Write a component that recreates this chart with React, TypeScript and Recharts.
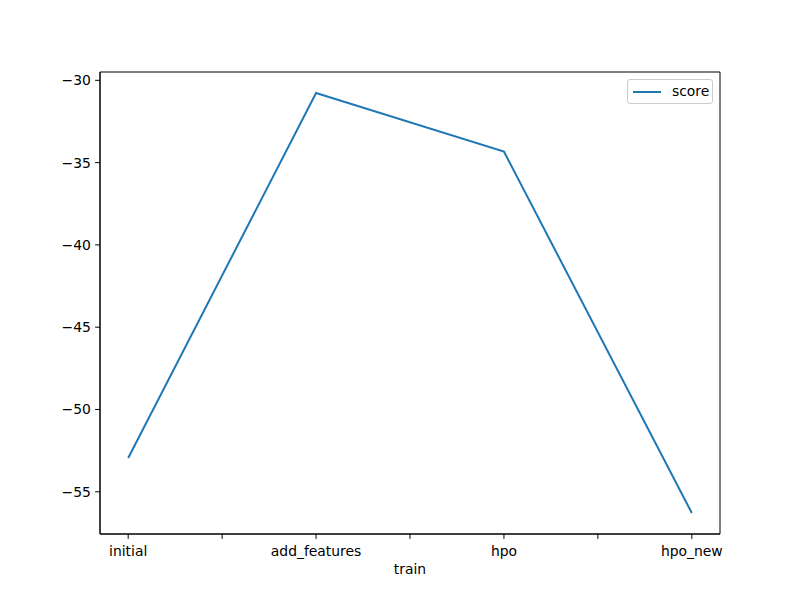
import React from 'react';
import { LineChart, Line, XAxis, YAxis, ReferenceArea, Legend, Label } from 'recharts';

const categories = ['initial', 'add_features', 'hpo', 'hpo_new'];
const scores = [-52.95, -30.77, -34.33, -56.29];
const yTicks = [-55, -50, -45, -40, -35, -30];
const xTicks = [0, 0.5, 1, 1.5, 2, 2.5, 3];

const data = categories.map((c, i) => ({ x: i, name: c, score: scores[i] }));

const dMin = Math.min(...scores);
const dMax = Math.max(...scores);
const pad = (dMax - dMin) * 0.05;
const yDomain: [number, number] = [dMin - pad, dMax + pad];
const xDomain: [number, number] = [-0.15, 3.15];

const FONT = 'DejaVu Sans, sans-serif';
const FS = 13.9;

const LegendBox = () => (
  <div
    style={{
      boxSizing: 'border-box',
      width: 86,
      height: 25,
      border: '1px solid #cccccc',
      borderRadius: 3,
      background: 'rgba(255,255,255,0.8)',
      display: 'flex',
      alignItems: 'center',
      fontFamily: FONT,
      fontSize: FS,
      color: '#000',
    }}
  >
    <svg width={28} height={4} style={{ marginLeft: 5, display: 'block' }}>
      <line x1={0} y1={2} x2={28} y2={2} stroke="#1f77b4" strokeWidth={2} />
    </svg>
    <span style={{ marginLeft: 11, lineHeight: 1 }}>score</span>
  </div>
);

export default function App() {
  return (
    <div style={{ position: 'absolute', left: 0, top: 0, width: 800, height: 600, background: '#fff' }}>
      <LineChart width={800} height={600} data={data} margin={{ top: 72, right: 80, bottom: 0, left: 0 }}>
        <XAxis
          type="number"
          dataKey="x"
          domain={xDomain}
          ticks={xTicks}
          allowDataOverflow
          interval={0}
          tickFormatter={(v: number) => (Number.isInteger(v) ? categories[v] : '')}
          height={66}
          stroke="#000"
          tickSize={4.86}
          tickMargin={7}
          tick={{ fill: '#000', fontSize: FS, fontFamily: FONT }}
        >
          <Label value="train" position="insideBottom" offset={26} fill="#000" fontSize={FS} fontFamily={FONT} />
        </XAxis>
        <YAxis
          type="number"
          domain={yDomain}
          ticks={yTicks}
          allowDataOverflow
          interval={0}
          width={100}
          stroke="#000"
          tickSize={4.86}
          tickMargin={4.3}
          tickFormatter={(v: number) => String(v).replace('-', '\u2212')}
          tick={{ fill: '#000', fontSize: FS, fontFamily: FONT }}
        />
        <ReferenceArea
          x1={xDomain[0]}
          x2={xDomain[1]}
          y1={yDomain[0]}
          y2={yDomain[1]}
          fill="none"
          fillOpacity={0}
          stroke="#000"
          strokeWidth={1}
          ifOverflow="visible"
        />
        <Line
          type="linear"
          dataKey="score"
          stroke="#1f77b4"
          strokeWidth={2}
          dot={false}
          activeDot={false}
          isAnimationActive={false}
        />
        <Legend
          layout="horizontal"
          verticalAlign="middle"
          align="center"
          wrapperStyle={{ position: 'absolute', top: 79, left: 627, width: 86, height: 25, right: 'auto', bottom: 'auto' }}
          content={() => <LegendBox />}
        />
      </LineChart>
    </div>
  );
}
